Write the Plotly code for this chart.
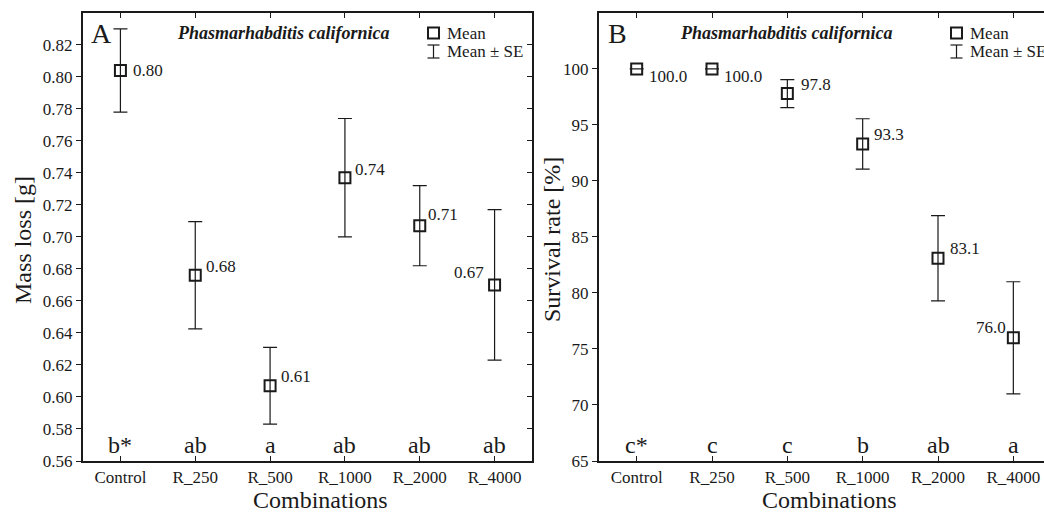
import plotly.graph_objects as go

# ---------------- data ----------------
categories = ["Control", "R_250", "R_500", "R_1000", "R_2000", "R_4000"]

mass_mean = [0.804, 0.676, 0.607, 0.737, 0.707, 0.670]
mass_se = [0.026, 0.0335, 0.024, 0.037, 0.025, 0.047]
mass_letters = ["b*", "ab", "a", "ab", "ab", "ab"]

surv_mean = [100.0, 100.0, 97.8, 93.3, 83.1, 76.0]
surv_se = [0.0, 0.0, 1.25, 2.25, 3.8, 5.0]
surv_letters = ["c*", "c", "c", "b", "ab", "a"]

species = "Phasmarhabditis californica"
mass_ticks = [0.56, 0.58, 0.60, 0.62, 0.64, 0.66, 0.68, 0.70, 0.72, 0.74, 0.76, 0.78, 0.80, 0.82]
surv_ticks = [65, 70, 75, 80, 85, 90, 95, 100]

# ---------------- layout helpers ----------------
W, H = 1044, 512
FONT = "Liberation Serif, Times New Roman, Times, serif"
BLACK = "#1a1a1a"


def px(x):
    return x / W


def py(y):
    return 1 - y / H


# label placement (style): (xanchor, xshift, yshift)
mass_lab = [("left", 11, 0), ("left", 9, 9), ("left", 9, 9), ("left", 8, 8), ("left", 6, 11), ("right", -9, 12)]
surv_lab = [("left", 10, -8), ("left", 10, -8), ("left", 12, 9), ("left", 9, 9), ("left", 10, 10), ("right", -5, 10)]

fig = go.Figure()

for xa, ya, mean, se in [("x", "y", mass_mean, mass_se), ("x2", "y2", surv_mean, surv_se)]:
    fig.add_trace(go.Scatter(
        x=categories, y=mean, xaxis=xa, yaxis=ya, mode="markers",
        marker=dict(symbol="square-open", size=11, color=BLACK, line=dict(width=2, color=BLACK)),
        error_y=dict(type="data", array=se, visible=True, color=BLACK, thickness=1.2, width=7),
        showlegend=False, cliponaxis=False,
    ))

annotations = []
for xa, ya, mean, fmt, labs in [("x", "y", mass_mean, "{:.2f}", mass_lab),
                                ("x2", "y2", surv_mean, "{:.1f}", surv_lab)]:
    for c, m, (anc, xs, ys) in zip(categories, mean, labs):
        annotations.append(dict(x=c, y=m, xref=xa, yref=ya, text=fmt.format(m), showarrow=False,
                                xanchor=anc, yanchor="middle", xshift=xs, yshift=ys,
                                font=dict(family=FONT, size=17, color=BLACK)))

# significance letters near the bottom of each panel
for xa, ya, letters, ybase in [("x", "y", mass_letters, mass_ticks[0]),
                               ("x2", "y2", surv_letters, surv_ticks[0])]:
    for c, l in zip(categories, letters):
        annotations.append(dict(x=c, y=ybase, xref=xa, yref=ya, text=l, showarrow=False,
                                xanchor="center", yanchor="bottom", yshift=1,
                                font=dict(family=FONT, size=24, color=BLACK)))

# panel letters, species titles, axis titles
for txt, x in [("A", 89), ("B", 606)]:
    annotations.append(dict(x=px(x), y=py(33), xref="paper", yref="paper", text=txt, showarrow=False,
                            xanchor="left", yanchor="middle", font=dict(family=FONT, size=28, color=BLACK)))
for x in [175, 678]:
    annotations.append(dict(x=px(x), y=py(33), xref="paper", yref="paper",
                            text="<b><i>" + species + "</i></b>", showarrow=False,
                            xanchor="left", yanchor="middle", font=dict(family=FONT, size=18, color=BLACK)))
for txt, x in [("Mass loss [g]", 23), ("Survival rate [%]", 552)]:
    annotations.append(dict(x=px(x), y=py(240), xref="paper", yref="paper", text=txt, showarrow=False,
                            textangle=-90, xanchor="center", yanchor="middle",
                            font=dict(family=FONT, size=24, color=BLACK)))
for x in [320, 829]:
    annotations.append(dict(x=px(x), y=py(500), xref="paper", yref="paper", text="Combinations",
                            showarrow=False, xanchor="center", yanchor="middle",
                            font=dict(family=FONT, size=24, color=BLACK)))

# legends (square + I-beam drawn as shapes)
shapes = []
for lx in [433.5, 956.5]:
    shapes.append(dict(type="rect", xref="paper", yref="paper", x0=px(lx - 5.5), x1=px(lx + 5.5),
                       y0=py(38.5), y1=py(27.5), line=dict(color=BLACK, width=2)))
    shapes.append(dict(type="line", xref="paper", yref="paper", x0=px(lx), x1=px(lx),
                       y0=py(45), y1=py(58), line=dict(color=BLACK, width=1.2)))
    for yy in [45, 58]:
        shapes.append(dict(type="line", xref="paper", yref="paper", x0=px(lx - 6), x1=px(lx + 6),
                           y0=py(yy), y1=py(yy), line=dict(color=BLACK, width=1.2)))
    annotations.append(dict(x=px(lx + 11.5), y=py(33), xref="paper", yref="paper", text="Mean",
                            showarrow=False, xanchor="left", yanchor="middle",
                            font=dict(family=FONT, size=17, color=BLACK)))
    annotations.append(dict(x=px(lx + 11.5), y=py(51), xref="paper", yref="paper", text="Mean ± SE",
                            showarrow=False, xanchor="left", yanchor="middle",
                            font=dict(family=FONT, size=17, color=BLACK)))

tickfont = dict(family=FONT, size=17, color=BLACK)
ydom = [51 / H, 499 / H]
xcommon = dict(type="category", categoryorder="array", categoryarray=categories,
               showline=True, linewidth=2, linecolor=BLACK, mirror="ticks", ticks="inside",
               ticklen=5, tickwidth=1, tickcolor=BLACK, tickfont=tickfont, showgrid=False,
               zeroline=False, automargin=False)
ycommon = dict(showline=True, linewidth=2, linecolor=BLACK, ticks="outside", ticklen=5,
               tickwidth=1, tickcolor=BLACK, tickfont=tickfont, showgrid=False, zeroline=False,
               automargin=False, domain=ydom)

fig.update_layout(
    width=W, height=H, margin=dict(l=0, r=0, t=0, b=0),
    paper_bgcolor="white", plot_bgcolor="white",
    font=dict(family=FONT, color=BLACK),
    xaxis=dict(xcommon, domain=[83 / W, 532 / W], range=[-0.5, 5.5], anchor="y"),
    yaxis=dict(ycommon, range=[0.56, 0.8399], tickvals=mass_ticks,
               ticktext=["{:.2f}".format(t) for t in mass_ticks], anchor="x"),
    yaxis3=dict(overlaying="y", side="right", anchor="x", range=[0.56, 0.8399], tickvals=mass_ticks,
                showticklabels=False, showline=True, linewidth=2, linecolor=BLACK, ticks="inside",
                ticklen=5, tickwidth=1, tickcolor=BLACK, showgrid=False, zeroline=False,
                automargin=False),
    xaxis2=dict(xcommon, domain=[599 / W, 1.0], range=[-0.5, 5.407], anchor="y2"),
    yaxis2=dict(ycommon, range=[65, 104.99], tickvals=surv_ticks, anchor="x2"),
    annotations=annotations, shapes=shapes, showlegend=False,
)
# dummy trace so yaxis3 is rendered
fig.add_trace(go.Scatter(x=[None], y=[None], xaxis="x", yaxis="y3", showlegend=False, hoverinfo="skip"))

fig.write_html("out.html")
